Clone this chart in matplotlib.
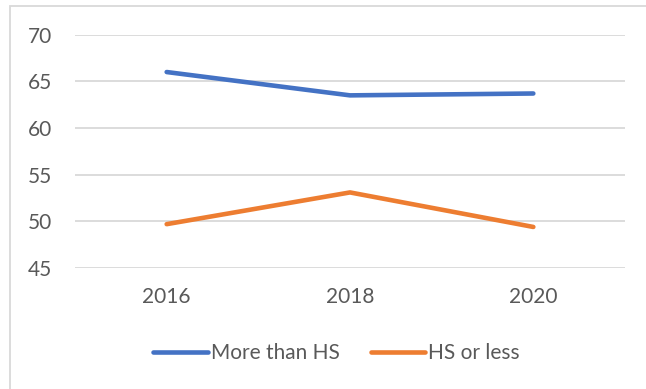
"""Line chart: share by education level, 2016-2020."""

import matplotlib.pyplot as plt
from matplotlib.patches import Rectangle

plt.rcParams["font.family"] = ["Lato", "DejaVu Sans"]

years = ["2016", "2018", "2020"]
more_than_hs = [66.0, 63.5, 63.7]
hs_or_less = [49.7, 53.1, 49.4]
y_ticks = [45, 50, 55, 60, 65, 70]

BLUE = "#4472c4"
ORANGE = "#ed7d31"
GRID = "#d9d9d9"
TEXT = "#595959"

fig = plt.figure(figsize=(6.46, 3.89), dpi=100)
ax = fig.add_axes([0.1161, 0.311, 0.8514, 0.5998])

xs = range(len(years))
ax.plot(xs, more_than_hs, color=BLUE, linewidth=3.3, solid_capstyle="round",
        solid_joinstyle="round", label="More than HS", zorder=3)
ax.plot(xs, hs_or_less, color=ORANGE, linewidth=3.3, solid_capstyle="round",
        solid_joinstyle="round", label="HS or less", zorder=3)

ax.set_xlim(-0.5, len(years) - 0.5)
ax.set_ylim(45, 70)
ax.set_xticks(list(xs))
ax.set_xticklabels(years)
ax.set_yticks(y_ticks)
ax.yaxis.grid(True, color=GRID, linewidth=1.3)
ax.set_axisbelow(True)
for side in ax.spines.values():
    side.set_visible(False)
ax.tick_params(length=0, labelsize=15, colors=TEXT)
ax.tick_params(axis="y", pad=16.5)
ax.tick_params(axis="x", pad=14)

fig.legend(loc="center", bbox_to_anchor=(0.521, 0.093), ncol=2, frameon=False,
           fontsize=15, labelcolor=TEXT, handlelength=2.6, handletextpad=0.15,
           columnspacing=1.5)

# chart-area border
fig.patches.append(Rectangle((10 / 646, -0.05), 1.0, 1.05 - 6 / 389,
                             transform=fig.transFigure, fill=False,
                             edgecolor=GRID, linewidth=1.3))

fig.savefig("out.png", dpi=100)
